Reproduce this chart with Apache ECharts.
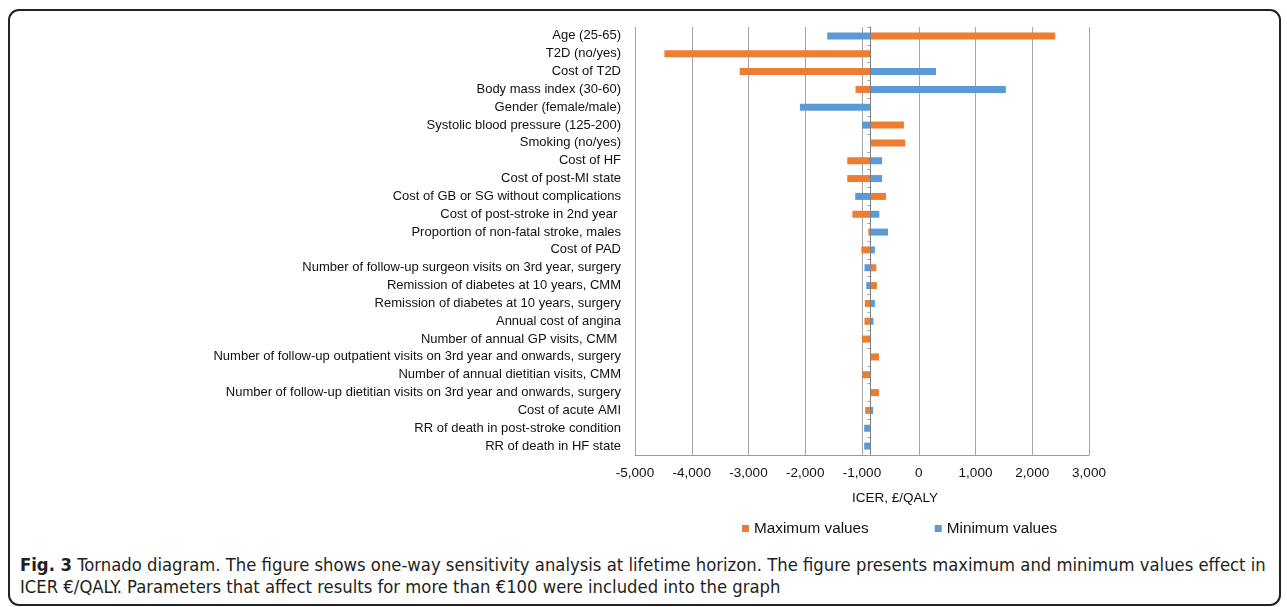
<!DOCTYPE html>
<html>
<head>
<meta charset="utf-8">
<script src="https://cdn.jsdelivr.net/npm/echarts@6/dist/echarts.min.js"></script>
<style>
  html, body { margin: 0; padding: 0; background: #fff; }
  body { width: 1287px; height: 607px; position: relative; overflow: hidden; }
  #frame {
    position: absolute; left: 8px; top: 9px; width: 1273px; height: 597px;
    border: 2px solid #222; border-radius: 11px; box-sizing: border-box;
  }
  #chart { position: absolute; left: 0; top: 0; width: 1287px; height: 545px; }
  #caption {
    position: absolute; left: 20px; top: 554px; width: 1262px;
    font-family: "Liberation Sans Narrow", "DejaVu Sans Condensed", sans-serif;
    font-size: 18.3px; line-height: 22px; color: #231f20; white-space: nowrap;
  }
</style>
</head>
<body>
<div id="frame"></div>
<div id="chart"></div>
<div id="caption"><b>Fig. 3</b> Tornado diagram. The figure shows one-way sensitivity analysis at lifetime horizon. The figure presents maximum and minimum values effect in<br>ICER €/QALY. Parameters that affect results for more than €100 were included into the graph</div>
<script>
const categories = [
  'Age (25-65)',
  'T2D (no/yes)',
  'Cost of T2D',
  'Body mass index (30-60)',
  'Gender (female/male)',
  'Systolic blood pressure (125-200)',
  'Smoking (no/yes)',
  'Cost of HF',
  'Cost of post-MI state',
  'Cost of GB or SG without complications',
  'Cost of post-stroke in 2nd year ',
  'Proportion of non-fatal stroke, males',
  'Cost of PAD',
  'Number of follow-up surgeon visits on 3rd year, surgery',
  'Remission of diabetes at 10 years, CMM',
  'Remission of diabetes at 10 years, surgery',
  'Annual cost of angina',
  'Number of annual GP visits, CMM ',
  'Number of follow-up outpatient visits on 3rd year and onwards, surgery',
  'Number of annual dietitian visits, CMM',
  'Number of follow-up dietitian visits on 3rd year and onwards, surgery',
  'Cost of acute AMI',
  'RR of death in post-stroke condition',
  'RR of death in HF state'
];
// ICER at the maximum value of each parameter
const maxValues = [2405, -4481, -3154, -1114, -852, -262, -237, -1260, -1260, -578, -1169, -889,
  -1011, -749, -737, -950, -956, -998, -700, -992, -700, -944, -852, -852];
// ICER at the minimum value of each parameter
const minValues = [-1613, -852, 304, 1534, -2094, -998, -852, -645, -645, -1120, -694, -542,
  -773, -956, -925, -773, -798, -852, -852, -852, -852, -804, -962, -962];
// base-case ICER, the bars start here
const baseValue = -852;
const axisMin = -5000;
const axisMax = 3000;
const axisStep = 1000;

const gridLeft = 635, gridTop = 27, gridWidth = 454, gridHeight = 428;
const baseX = gridLeft + (baseValue - axisMin) / (axisMax - axisMin) * gridWidth;
const font = '"Liberation Sans", Arial, sans-serif';

let myChart = echarts.init(document.getElementById('chart'), null, { renderer: 'canvas' });
myChart.setOption({
  animation: false,
  textStyle: { fontFamily: font },
  legend: {
    data: ['Maximum values', 'Minimum values'],
    left: 737,
    top: 516,
    icon: 'rect',
    itemWidth: 7,
    itemHeight: 7,
    itemGap: 66,
    textStyle: { fontSize: 15.3, color: '#111', fontFamily: font }
  },
  graphic: [{
    type: 'text',
    left: 852,
    top: 491,
    style: { text: 'ICER, £/QALY', font: '13.5px ' + font, fill: '#111' }
  }],
  grid: [
    { left: gridLeft, top: gridTop, width: gridWidth, height: gridHeight },
    { left: baseX, top: gridTop, width: 10, height: gridHeight }
  ],
  xAxis: [{
    type: 'value',
    gridIndex: 0,
    min: axisMin,
    max: axisMax,
    interval: axisStep,
    startValue: baseValue,
    axisLine: { show: true, lineStyle: { color: '#9a9a9a' } },
    axisTick: { show: false },
    axisLabel: {
      fontSize: 13.5,
      color: '#111',
      margin: 11,
      formatter: v => v.toLocaleString('en-US')
    },
    splitLine: { show: true, lineStyle: { color: '#a6a6a6' } }
  }, {
    type: 'value',
    gridIndex: 1,
    min: 0,
    max: 1,
    show: false
  }],
  yAxis: [{
    type: 'category',
    gridIndex: 0,
    data: categories,
    inverse: true,
    axisLine: { show: false },
    axisTick: { show: false },
    axisLabel: { fontSize: 13, color: '#111', margin: 14 }
  }, {
    type: 'category',
    gridIndex: 1,
    data: categories,
    inverse: true,
    z: 5,
    axisLine: { show: true, lineStyle: { color: '#808080' } },
    axisTick: { show: true, length: 3, lineStyle: { color: '#a0a0a0' } },
    axisLabel: { show: false },
    splitLine: { show: false }
  }],
  series: [{
    name: 'Maximum values',
    type: 'bar',
    xAxisIndex: 0,
    yAxisIndex: 0,
    data: maxValues,
    barWidth: 7,
    barGap: '-100%',
    itemStyle: { color: '#ED7D31' }
  }, {
    name: 'Minimum values',
    type: 'bar',
    xAxisIndex: 0,
    yAxisIndex: 0,
    data: minValues,
    barWidth: 7,
    barGap: '-100%',
    itemStyle: { color: '#5B9BD5' }
  }]
});
</script>
</body>
</html>
